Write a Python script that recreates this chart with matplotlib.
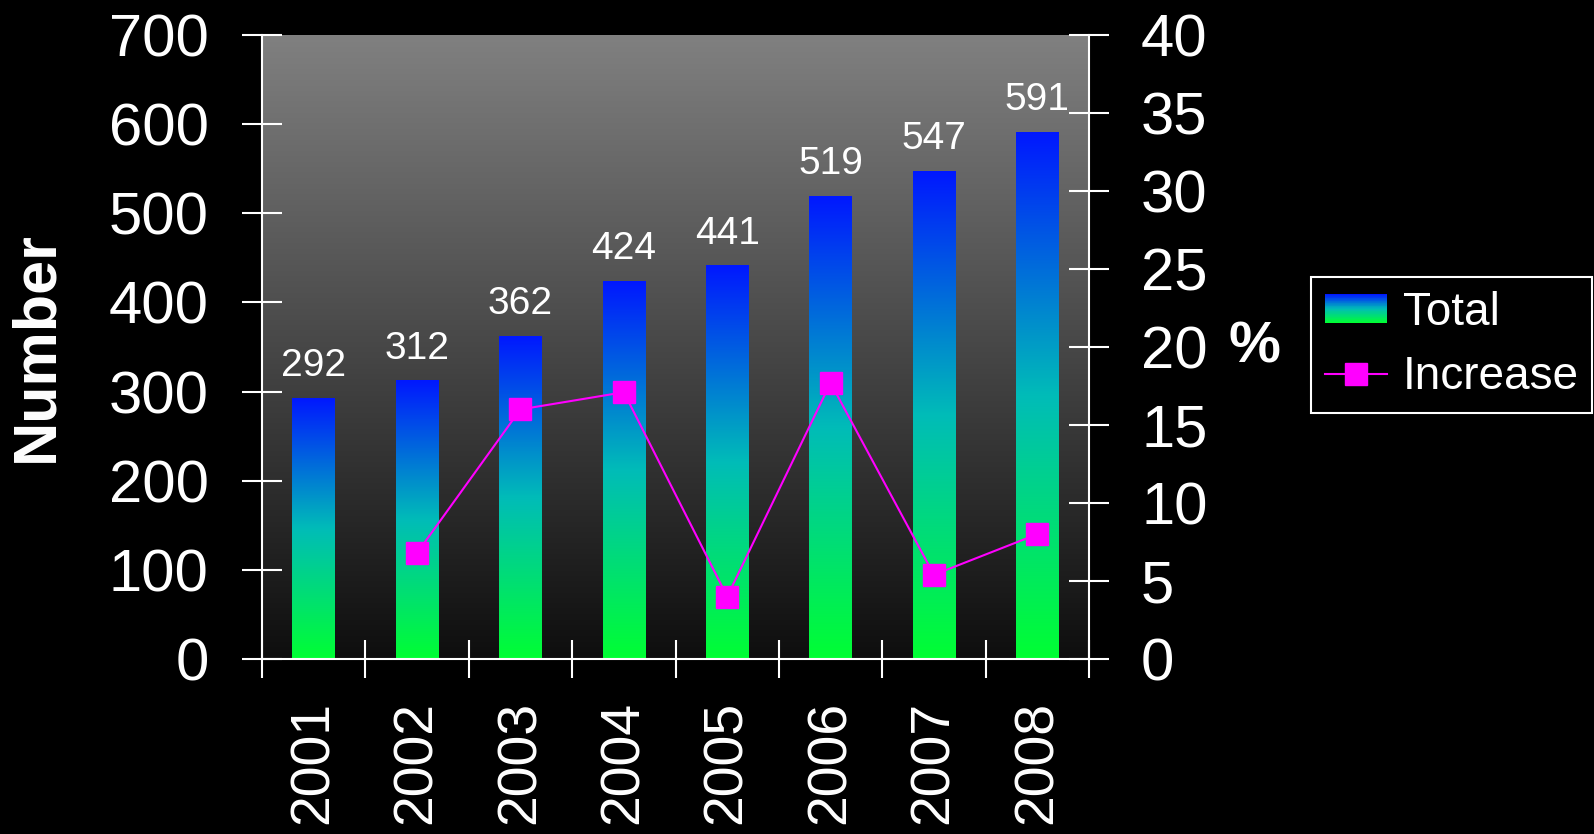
import matplotlib
matplotlib.use('Agg')
import matplotlib.pyplot as plt
import numpy as np
from matplotlib.colors import LinearSegmentedColormap
from matplotlib.patches import Rectangle
from matplotlib.legend_handler import HandlerBase
from matplotlib.lines import Line2D

plt.rcParams['font.family'] = ['Liberation Sans', 'DejaVu Sans']

years = ['2001', '2002', '2003', '2004', '2005', '2006', '2007', '2008']
total = [292, 312, 362, 424, 441, 519, 547, 591]
increase = [None, 6.8, 16.0, 17.1, 4.0, 17.7, 5.4, 8.0]

bar_cmap = LinearSegmentedColormap.from_list(
    'bar', [(0.0, '#00ff33'), (0.5, '#00bcb8'), (1.0, '#0018ff')])
bg_cmap = LinearSegmentedColormap.from_list('bg', ['#0e0e0e', '#808080'])

fig = plt.figure(figsize=(15.94, 8.34), dpi=100, facecolor='black')
ax = fig.add_axes([262 / 1594, 175 / 834, 827 / 1594, 624 / 834])
ax.set_facecolor('black')

x = np.arange(len(years))
w = 0.41
grad = np.linspace(0, 1, 256).reshape(-1, 1)

# gradient background of the plot area
ax.imshow(grad, cmap=bg_cmap, origin='lower', aspect='auto',
          extent=(-0.5, 7.5, 0, 700), zorder=0)

# gradient bars
for xi, v in zip(x, total):
    ax.imshow(grad, cmap=bar_cmap, origin='lower', aspect='auto',
              extent=(xi - w / 2, xi + w / 2, 0, v), zorder=2)
    ax.annotate(str(v), (xi, v), xytext=(0, 16), textcoords='offset points',
                ha='center', va='baseline', color='white', fontsize=28)

ax.set_xlim(-0.5, 7.5)
ax.set_ylim(0, 700)
ax.set_yticks(np.arange(0, 701, 100))
ax.set_xticks(np.arange(-0.5, 8, 1))
ax.set_xticklabels([])
ax.set_xticks(x, labels=years, minor=True)
ax.tick_params(axis='x', which='minor', length=0, pad=30, labelsize=40,
               labelcolor='white', labelrotation=90)
ax.tick_params(axis='x', which='major', direction='inout', length=27,
               width=1.5, color='white')
ax.tick_params(axis='y', direction='inout', length=29, width=1.5,
               color='white', labelcolor='white', labelsize=43, pad=24)
for s in ['top', 'right']:
    ax.spines[s].set_visible(False)
for s in ['left', 'bottom']:
    ax.spines[s].set_color('white')
    ax.spines[s].set_linewidth(1.5)
ax.set_ylabel('Number', color='white', fontsize=44, fontweight='bold',
              va='center', ha='center')
ax.yaxis.set_label_coords(-0.272, 0.5)

ax2 = ax.twinx()
ax2.set_ylim(0, 40)
ax2.set_yticks(np.arange(0, 41, 5))
inc_x = [xi for xi, v in zip(x, increase) if v is not None]
inc_y = [v for v in increase if v is not None]
ax2.plot(inc_x, inc_y, color='#ff00ff', lw=1.5, marker='s', markersize=16,
         zorder=5)
ax2.tick_params(axis='y', direction='inout', length=29, width=1.5,
                color='white', labelcolor='white', labelsize=43, pad=23)
for s in ['top', 'left', 'bottom']:
    ax2.spines[s].set_visible(False)
ax2.spines['right'].set_color('white')
ax2.spines['right'].set_linewidth(1.5)
ax2.set_ylabel('%', color='white', fontsize=42, fontweight='bold', rotation=0,
               va='center', ha='center')
ax2.yaxis.set_label_coords(1.2, 0.5)


class GradientHandler(HandlerBase):
    def create_artists(self, legend, orig_handle, xdescent, ydescent,
                       width, height, fontsize, trans):
        n = 40
        arts = []
        for i in range(n):
            r = Rectangle((-xdescent, -ydescent + height * i / n), width,
                          height / n * 1.05, facecolor=bar_cmap(i / (n - 1)),
                          edgecolor='none', transform=trans)
            arts.append(r)
        return arts


total_handle = Rectangle((0, 0), 1, 1)
inc_handle = Line2D([], [], color='#ff00ff', lw=1.5, marker='s', markersize=16)
leg = fig.legend([total_handle, inc_handle], ['Total', 'Increase'],
                 handler_map={Rectangle: GradientHandler()},
                 loc='center left', bbox_to_anchor=(1311 / 1594, 1 - 345 / 834),
                 bbox_transform=fig.transFigure, borderaxespad=0,
                 fontsize=33, frameon=True, fancybox=False,
                 facecolor='black', edgecolor='white', framealpha=1,
                 handlelength=1.35, handleheight=0.6, handletextpad=0.35,
                 borderpad=0.3, labelspacing=0.45)
for t in leg.get_texts():
    t.set_color('white')
leg.get_frame().set_linewidth(1.5)

fig.savefig('out.png', dpi=100, facecolor='black')
